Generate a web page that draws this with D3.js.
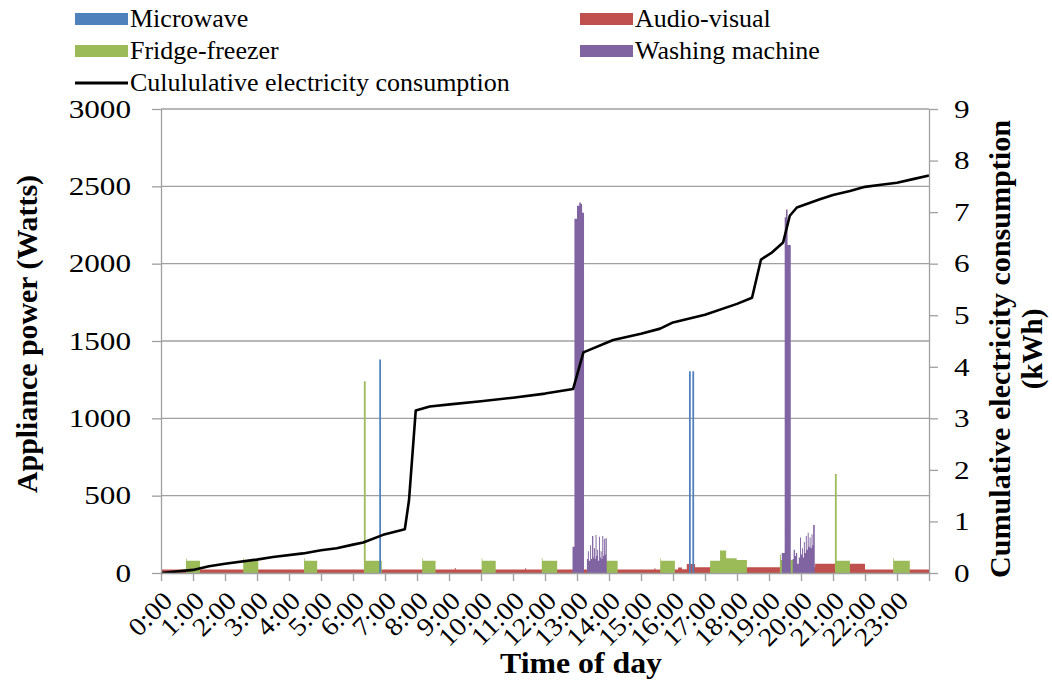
<!DOCTYPE html>
<html lang="en">
  <head>
    <meta charset="UTF-8" />
    <title>Appliance power</title>
    <script src="https://d3js.org/d3.v7.min.js"></script>
    <style>
      body { margin: 0; background: #fff; }
      svg, svg text { font-family: "Liberation Serif", "Times New Roman", serif; fill: #000; }
      .axis path, .axis line { stroke: #a0a0a0; stroke-width: 1.3; }
      .title { font-weight: bold; }
    </style>
  </head>
  <body>
    <svg width="1052" height="680"></svg>
    <script>
      // tick labels
      var timeLabels = ["0:00", "1:00", "2:00", "3:00", "4:00", "5:00", "6:00", "7:00",
        "8:00", "9:00", "10:00", "11:00", "12:00", "13:00", "14:00", "15:00",
        "16:00", "17:00", "18:00", "19:00", "20:00", "21:00", "22:00", "23:00"];
      var powerTicks = [0, 500, 1000, 1500, 2000, 2500, 3000];
      var kwhTicks = [0, 1, 2, 3, 4, 5, 6, 7, 8, 9];

      // step series: value holds from each time until the next one (hours, watts)
      var avTimes = [0, 9.18, 9.21, 11.38, 11.41, 15.42, 15.45, 16.16, 16.28, 16.43, 16.69, 20.44, 22.0, 24];
      var avWatts = [22, 32, 22, 30, 22, 30, 22, 36, 24, 58, 37, 60, 22, 22];

      var fridgeTimes = [0, 0.78, 0.80, 1.22, 2.57, 2.59, 3.04, 4.47, 4.49, 4.88, 6.34, 6.395, 6.90,
        8.16, 8.18, 8.58, 10.02, 10.04, 10.46, 11.90, 11.92, 12.38, 13.90, 13.92, 14.27,
        15.60, 15.62, 16.06, 17.16, 17.47, 17.66, 17.99, 18.31, 19.34, 19.37, 19.75,
        21.06, 21.115, 21.53, 22.88, 22.90, 23.40, 24];
      var fridgeWatts = [0, 95, 80, 0, 95, 80, 0, 95, 80, 0, 1240, 80, 0,
        95, 80, 0, 95, 80, 0, 97, 80, 0, 95, 80, 0,
        95, 80, 0, 80, 146, 95, 84, 0, 120, 84, 0,
        640, 80, 0, 95, 80, 0, 0];

      var washTimes = [0, 12.86, 12.92, 13.0, 13.07, 13.12, 13.16, 13.22,
        13.31, 13.34, 13.37, 13.41, 13.44, 13.47, 13.51, 13.53, 13.56, 13.58, 13.61, 13.63,
        13.66, 13.69, 13.72, 13.74, 13.77, 13.79, 13.82, 13.84, 13.87, 13.89, 13.93,
        19.40, 19.49, 19.53, 19.58, 19.68,
        19.74, 19.77, 19.81, 19.84, 19.88, 19.93, 19.97, 20.0, 20.03, 20.06, 20.09, 20.12,
        20.15, 20.18, 20.21, 20.24, 20.27, 20.30, 20.33, 20.36, 20.38, 20.43, 24];
      var washWatts = [0, 170, 2290, 2375, 2395, 2385, 2330, 0,
        90, 140, 80, 180, 90, 240, 100, 160, 90, 245, 110, 150,
        80, 235, 100, 140, 90, 240, 110, 220, 120, 225, 0,
        130, 2300, 2350, 2120, 0,
        90, 150, 110, 130, 60, 100, 230, 120, 160, 100, 200, 130,
        240, 150, 260, 170, 230, 160, 250, 180, 310, 0, 0];

      var microTimes = [0, 6.82, 6.875, 16.50, 16.555, 16.605, 16.66, 24];
      var microWatts = [0, 1380, 0, 1305, 0, 1305, 0, 0];

      // cumulative consumption (hours, kWh)
      var cumHours = [0, 1.0, 1.5, 2.0, 2.99, 3.5, 4.44, 5.0, 5.49, 6.0, 6.32, 6.94, 7.62, 7.75, 7.96,
        8.4, 9.03, 10.0, 11.0, 12.0, 12.88, 13.2, 14.13, 15.0, 15.6, 16.0, 17.0, 18.0, 18.47,
        18.75, 19.1, 19.44, 19.65, 19.87, 20.59, 21.0, 21.53, 22.0, 22.5, 23.0, 23.5, 24.0];
      var cumKwh = [0, 0.06, 0.13, 0.18, 0.26, 0.31, 0.38, 0.44, 0.48, 0.55, 0.59, 0.74, 0.85, 1.41, 3.15,
        3.23, 3.27, 3.33, 3.40, 3.48, 3.57, 4.28, 4.52, 4.64, 4.74, 4.86, 5.01, 5.22, 5.34,
        6.08, 6.22, 6.41, 6.93, 7.09, 7.25, 7.33, 7.41, 7.49, 7.53, 7.57, 7.64, 7.71];

      var series = [
        { name: "Audio-visual", color: "#C0504D", times: avTimes, watts: avWatts },
        { name: "Fridge-freezer", color: "#9BBB59", times: fridgeTimes, watts: fridgeWatts },
        { name: "Washing machine", color: "#8064A2", times: washTimes, watts: washWatts },
        { name: "Microwave", color: "#4F81BD", times: microTimes, watts: microWatts }
      ];

      var svg = d3.select("svg");
      var plotLeft = 161, plotRight = 929, plotTop = 109, plotBottom = 573;

      var x = d3.scaleLinear().domain([0, 24]).range([plotLeft, plotRight]);
      var yPower = d3.scaleLinear().domain([0, 3000]).range([plotBottom, plotTop]);
      var yKwh = d3.scaleLinear().domain([0, 9]).range([plotBottom, plotTop]);

      // gridlines
      svg.append("g")
        .selectAll("line")
        .data(powerTicks.slice(1))
        .join("line")
        .attr("x1", plotLeft)
        .attr("x2", plotRight)
        .attr("y1", (d) => yPower(d))
        .attr("y2", (d) => yPower(d))
        .style("stroke", "#a0a0a0")
        .style("stroke-width", 1.3);

      var area = d3.area()
        .curve(d3.curveStepAfter)
        .x((d) => x(d.t))
        .y0(yPower(0))
        .y1((d) => yPower(d.w));

      svg.append("g")
        .selectAll("path")
        .data(series)
        .join("path")
        .attr("d", (s) => area(s.times.map((t, i) => ({ t: t, w: s.watts[i] }))))
        .style("fill", (s) => s.color);

      // cumulative line
      var line = d3.line()
        .x((d) => x(d[0]))
        .y((d) => yKwh(d[1]));

      svg.append("path")
        .datum(cumHours.map((h, i) => [h, cumKwh[i]]))
        .attr("d", line)
        .style("fill", "none")
        .style("stroke", "#000")
        .style("stroke-width", 2.6)
        .style("stroke-linejoin", "round");

      // axes
      var gLeft = svg.append("g")
        .attr("class", "axis")
        .attr("transform", "translate(" + plotLeft + ",0)")
        .call(d3.axisLeft(yPower).tickValues(powerTicks).tickSize(9).tickSizeOuter(0)
          .tickFormat(d3.format("d")));

      var gRight = svg.append("g")
        .attr("class", "axis")
        .attr("transform", "translate(" + plotRight + ",0)")
        .call(d3.axisRight(yKwh).tickValues(kwhTicks).tickSize(9).tickSizeOuter(0)
          .tickFormat(d3.format("d")));

      var gBottom = svg.append("g")
        .attr("class", "axis")
        .attr("transform", "translate(0," + plotBottom + ")")
        .call(d3.axisBottom(x).tickValues(d3.range(0, 25)).tickSize(8).tickSizeOuter(0)
          .tickFormat((d, i) => timeLabels[i] || ""));

      svg.selectAll(".axis").attr("font-family", null).attr("font-size", null);

      // the original labels are a little wider than the font
      gLeft.selectAll("text")
        .style("font-size", "26px")
        .attr("x", 0)
        .attr("transform", "translate(-30,0) scale(1.2,1)");
      gRight.selectAll("text")
        .style("font-size", "26px")
        .attr("x", 0)
        .attr("transform", "translate(25,0) scale(1.2,1)");
      gBottom.selectAll("text")
        .style("font-size", "26px")
        .attr("text-anchor", "end")
        .attr("dy", "0.35em")
        .attr("transform", "translate(6,23) rotate(-45) scale(1.08,1)")
        .attr("y", 0)
        .attr("x", 0);

      // axis titles
      svg.append("text")
        .attr("class", "title")
        .attr("transform", "translate(37,334) rotate(-90)")
        .attr("text-anchor", "middle")
        .attr("textLength", 318)
        .attr("lengthAdjust", "spacingAndGlyphs")
        .style("font-size", "29px")
        .text("Appliance power (Watts)");

      var rt = svg.append("text")
        .attr("class", "title")
        .attr("transform", "translate(1010,349) rotate(-90)")
        .attr("text-anchor", "middle")
        .style("font-size", "29px");
      rt.append("tspan").attr("x", 0).attr("dy", 0)
        .attr("textLength", 458).attr("lengthAdjust", "spacingAndGlyphs")
        .text("Cumulative electricity consumption");
      rt.append("tspan").attr("x", 0).attr("dy", 32).text("(kWh)");

      svg.append("text")
        .attr("class", "title")
        .attr("x", 581)
        .attr("y", 673)
        .attr("text-anchor", "middle")
        .attr("textLength", 162)
        .attr("lengthAdjust", "spacingAndGlyphs")
        .style("font-size", "29px")
        .text("Time of day");

      // legend
      var legendItems = [
        { name: "Microwave", color: "#4F81BD", lx: 75, ly: 19, type: "rect" },
        { name: "Audio-visual", color: "#C0504D", lx: 580, ly: 19, type: "rect" },
        { name: "Fridge-freezer", color: "#9BBB59", lx: 75, ly: 51, type: "rect" },
        { name: "Washing machine", color: "#8064A2", lx: 580, ly: 51, type: "rect" },
        { name: "Culululative electricity consumption", color: "#000", lx: 75, ly: 83, type: "line" }
      ];

      var lg = svg.append("g")
        .selectAll("g")
        .data(legendItems)
        .join("g")
        .attr("transform", (d) => "translate(" + d.lx + "," + d.ly + ")");

      lg.filter((d) => d.type == "rect")
        .append("rect")
        .attr("x", 0)
        .attr("y", -6)
        .attr("width", 53)
        .attr("height", 12)
        .style("fill", (d) => d.color);

      lg.filter((d) => d.type == "line")
        .append("line")
        .attr("x1", 0)
        .attr("x2", 53)
        .style("stroke", "#000")
        .style("stroke-width", 3);

      lg.append("text")
        .attr("x", 55)
        .attr("y", 8)
        .style("font-size", "26px")
        .text((d) => d.name);
    </script>
  </body>
</html>
